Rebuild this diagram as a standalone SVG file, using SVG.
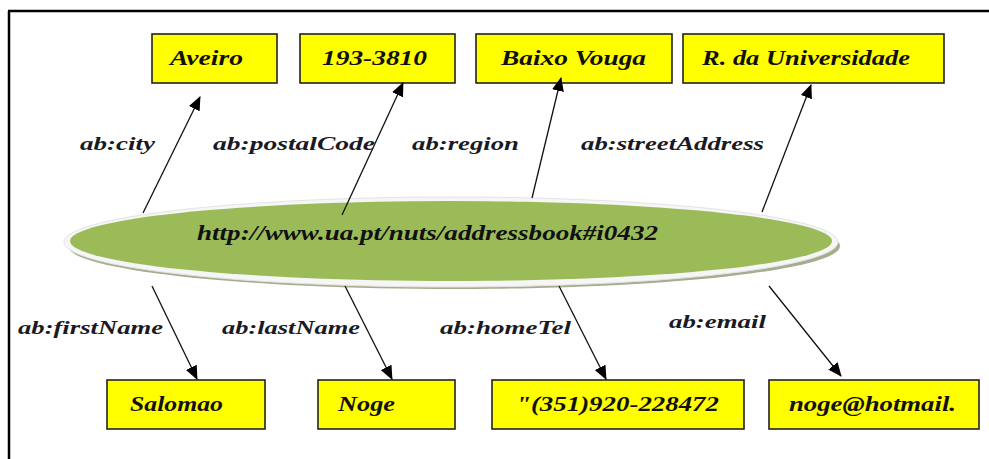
<svg xmlns="http://www.w3.org/2000/svg" width="989" height="459" viewBox="0 0 989 459">
  <style>
    .box rect { fill: #ffff00; stroke: #222; stroke-width: 1.6; }
    .box text, .lbl, .uri { font-family: "Liberation Serif", "DejaVu Serif", serif; font-weight: bold; font-style: italic; fill: #111; }
    .box text { font-size: 21px; }
    .lbl { font-size: 19px; fill: #1a1a24; }
    .uri { font-size: 20px; }
    .edge { stroke: #111; stroke-width: 1.3; fill: none; marker-end: url(#arrow); }
  </style>
  <defs>
    <marker id="arrow" viewBox="0 0 14 12" refX="13" refY="6" markerWidth="14" markerHeight="12" markerUnits="userSpaceOnUse" orient="auto">
      <path d="M0,0 L14,6 L0,12 Z" fill="#000"/>
    </marker>
  </defs>

  <rect width="989" height="459" fill="#fff"/>

  <!-- frame -->
  <g id="frame" stroke="#000" stroke-width="2.5" fill="none">
    <line x1="8" y1="11" x2="989" y2="11"/>
    <line x1="9" y1="11" x2="9" y2="459"/>
  </g>

  <!-- resource -->
  <g id="resource">
    <ellipse cx="454" cy="246" rx="386" ry="43" fill="#a3ae8e"/>
    <ellipse cx="451" cy="242" rx="387" ry="45" fill="#f6f6f6" stroke="#e4e4e4" stroke-width="1"/>
    <ellipse cx="451" cy="241" rx="381" ry="40" fill="#9bbb59"/>
    <text class="uri" x="197" y="240" textLength="461" lengthAdjust="spacingAndGlyphs">http://www.ua.pt/nuts/addressbook#i0432</text>
  </g>

  <!-- literal values -->
  <g id="city" class="box">
    <rect x="152" y="34" width="125" height="49"/>
    <text x="170" y="65" textLength="73" lengthAdjust="spacingAndGlyphs">Aveiro</text>
  </g>
  <g id="postalCode" class="box">
    <rect x="300" y="34" width="155" height="49"/>
    <text x="322" y="65" textLength="105" lengthAdjust="spacingAndGlyphs">193-3810</text>
  </g>
  <g id="region" class="box">
    <rect x="476" y="34" width="196" height="49"/>
    <text x="501" y="65" textLength="145" lengthAdjust="spacingAndGlyphs">Baixo Vouga</text>
  </g>
  <g id="streetAddress" class="box">
    <rect x="683" y="34" width="261" height="49"/>
    <text x="702" y="65" textLength="208" lengthAdjust="spacingAndGlyphs">R. da Universidade</text>
  </g>
  <g id="firstName" class="box">
    <rect x="107" y="380" width="158" height="49"/>
    <text x="130" y="411" textLength="93" lengthAdjust="spacingAndGlyphs">Salomao</text>
  </g>
  <g id="lastName" class="box">
    <rect x="318" y="380" width="137" height="49"/>
    <text x="338" y="411" textLength="57" lengthAdjust="spacingAndGlyphs">Noge</text>
  </g>
  <g id="homeTel" class="box">
    <rect x="492" y="380" width="252" height="49"/>
    <text x="516" y="411" textLength="203" lengthAdjust="spacingAndGlyphs">"(351)920-228472</text>
  </g>
  <g id="email" class="box">
    <rect x="769" y="380" width="210" height="49"/>
    <text x="789" y="411" textLength="167" lengthAdjust="spacingAndGlyphs">noge@hotmail.</text>
  </g>

  <!-- property arcs -->
  <g id="connectors">
    <line class="edge" x1="143" y1="213" x2="200" y2="97"/>
    <line class="edge" x1="342" y1="215" x2="403" y2="83"/>
    <line class="edge" x1="532" y1="198" x2="561" y2="78"/>
    <line class="edge" x1="762" y1="212" x2="811" y2="85"/>
    <line class="edge" x1="152" y1="286" x2="197" y2="379"/>
    <line class="edge" x1="345" y1="286" x2="392" y2="379"/>
    <line class="edge" x1="559" y1="286" x2="606" y2="379"/>
    <line class="edge" x1="769" y1="286" x2="841" y2="376"/>
  </g>

  <!-- property names -->
  <g id="labels">
    <text class="lbl" x="80" y="150" textLength="75" lengthAdjust="spacingAndGlyphs">ab:city</text>
    <text class="lbl" x="213" y="150" textLength="162" lengthAdjust="spacingAndGlyphs">ab:postalCode</text>
    <text class="lbl" x="412" y="150" textLength="107" lengthAdjust="spacingAndGlyphs">ab:region</text>
    <text class="lbl" x="581" y="150" textLength="183" lengthAdjust="spacingAndGlyphs">ab:streetAddress</text>
    <text class="lbl" x="18" y="334" textLength="145" lengthAdjust="spacingAndGlyphs">ab:firstName</text>
    <text class="lbl" x="222" y="334" textLength="138" lengthAdjust="spacingAndGlyphs">ab:lastName</text>
    <text class="lbl" x="440" y="334" textLength="131" lengthAdjust="spacingAndGlyphs">ab:homeTel</text>
    <text class="lbl" x="669" y="328" textLength="97" lengthAdjust="spacingAndGlyphs">ab:email</text>
  </g>
</svg>
